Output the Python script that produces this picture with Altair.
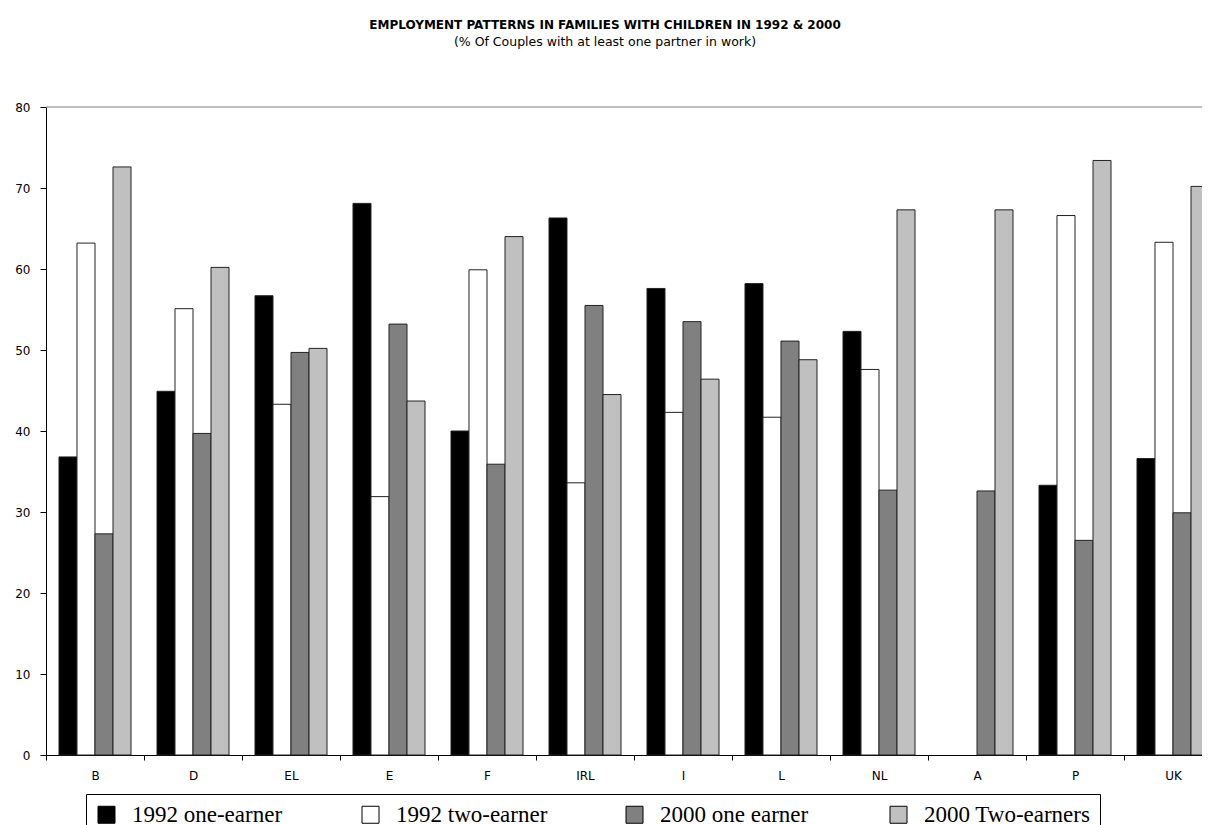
import altair as alt
import pandas as pd

countries = ["B", "D", "EL", "E", "F", "IRL", "I", "L", "NL", "A", "P", "UK"]
series_names = ["1992 one-earner", "1992 two-earner", "2000 one earner", "2000 Two-earners"]
series_colors = ["#000000", "#ffffff", "#808080", "#c0c0c0"]

one_earner_1992 = [36.8, 44.9, 56.7, 68.1, 40.0, 66.3, 57.6, 58.2, 52.3, None, 33.3, 36.6]
two_earner_1992 = [63.2, 55.1, 43.3, 31.9, 59.9, 33.6, 42.3, 41.7, 47.6, None, 66.6, 63.3]
one_earner_2000 = [27.3, 39.7, 49.7, 53.2, 35.9, 55.5, 53.5, 51.1, 32.7, 32.6, 26.5, 29.9]
two_earner_2000 = [72.6, 60.2, 50.2, 43.7, 64.0, 44.5, 46.4, 48.8, 67.3, 67.3, 73.4, 70.2]

y_ticks = [0, 10, 20, 30, 40, 50, 60, 70, 80]
y_max = [80]

title_text = "EMPLOYMENT PATTERNS IN FAMILIES WITH CHILDREN IN 1992 & 2000"
subtitle_text = "(% Of Couples with at least one partner in work)"

rows = []
for name, vals in zip(series_names, [one_earner_1992, two_earner_1992, one_earner_2000, two_earner_2000]):
    for c, v in zip(countries, vals):
        if v is not None:
            rows.append({"country": c, "series": name, "value": v})
df = pd.DataFrame(rows)
top_df = pd.DataFrame({"top": y_max})

W = 1156
H = 648
STEP = 98
RANGE = STEP * len(countries)

x_scale = alt.Scale(domain=countries, range=[0, RANGE], paddingInner=0, paddingOuter=0)
y_scale = alt.Scale(domain=[0, 80], nice=False)

AXIS_FONT = "DejaVu Sans"

bars = alt.Chart(df).mark_bar(stroke="#222222", strokeWidth=1).encode(
    x=alt.X("country:N", scale=x_scale, sort=countries,
            axis=alt.Axis(title=None, labelAngle=0, tickBand="extent", tickSize=5,
                          labelPadding=10, domainColor="#000000", tickColor="#000000",
                          labelFont=AXIS_FONT, labelFontSize=12, labelColor="#000000")),
    xOffset=alt.XOffset("series:N", sort=series_names,
                        scale=alt.Scale(domain=series_names, paddingInner=0, paddingOuter=0.722)),
    y=alt.Y("value:Q", scale=y_scale,
            axis=alt.Axis(title=None, values=y_ticks, grid=False, tickSize=6, labelPadding=10,
                          domainColor="#000000", tickColor="#000000",
                          labelFont=AXIS_FONT, labelFontSize=12, labelColor="#000000")),
    fill=alt.Fill("series:N", sort=series_names,
                  scale=alt.Scale(domain=series_names, range=series_colors),
                  legend=alt.Legend(title=None, orient="none", legendX=40, legendY=687,
                                    direction="horizontal", columns=4, gridAlign="all",
                                    columnPadding=60, symbolType="square", symbolSize=289,
                                    symbolStrokeColor="#000000", symbolStrokeWidth=1,
                                    labelFont="Liberation Serif", labelFontSize=23,
                                    labelColor="#000000", labelOffset=14, labelLimit=400,
                                    strokeColor="#000000", padding=9, fillColor="#ffffff")),
)

top_rule = alt.Chart(top_df).mark_rule(color="#808080", strokeWidth=1).encode(
    y=alt.Y("top:Q", scale=y_scale),
    x=alt.value(0),
    x2=alt.value(RANGE),
)

chart = alt.layer(top_rule, bars).properties(
    width=W,
    height=H,
    title=alt.TitleParams(text=title_text, subtitle=subtitle_text, anchor="middle", dx=-19,
                          font=AXIS_FONT, fontSize=12, fontWeight="bold", color="#000000",
                          subtitleFont=AXIS_FONT, subtitleFontSize=12.5,
                          subtitleColor="#000000", subtitlePadding=4, offset=52),
    autosize=alt.AutoSizeParams(type="none"),
    padding={"left": 38, "top": 99, "right": 0, "bottom": 75},
).configure_view(stroke=None)

chart.save("out.html", embed_options={"renderer": "svg", "actions": False})
